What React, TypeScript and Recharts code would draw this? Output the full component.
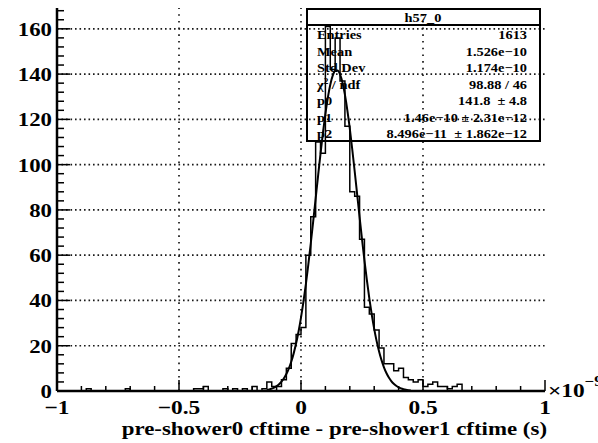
import React from 'react';
import { ComposedChart, Line, XAxis, YAxis, ReferenceLine } from 'recharts';

const FONT = '"Liberation Serif", "Times New Roman", Times, serif';

// Histogram h57_0 : 100 bins from -1 to 1 (x 1e-9 s)
const BIN_START = -1;
const BIN_WIDTH = 0.02;
const counts = [
  0, 0, 0, 0, 0, 0, 1, 0, 0, 0,
  0, 0, 0, 0, 1, 0, 0, 0, 0, 0,
  0, 0, 0, 0, 0, 0, 0, 0, 1, 1,
  2, 0, 0, 0, 1, 0, 1, 0, 1, 0,
  2, 0, 1, 4, 2, 2, 5, 10, 21, 25,
  28, 60, 77, 110, 105, 161, 142, 156, 137, 117,
  88, 86, 67, 37, 34, 27, 19, 12, 12, 9,
  10, 6, 5, 4, 5, 2, 3, 4, 2, 2,
  1, 2, 3, 0, 0, 0, 0, 0, 0, 0,
  0, 0, 0, 0, 0, 0, 0, 0, 0, 0,
];

// Gaussian fit curve values
const fitX = [
  -0.14, -0.13, -0.12, -0.11, -0.1, -0.09, -0.08, -0.07, -0.06, -0.05,
  -0.04, -0.03, -0.02, -0.01, 0, 0.01, 0.02, 0.03, 0.04, 0.05,
  0.06, 0.07, 0.08, 0.09, 0.1, 0.11, 0.12, 0.13, 0.14, 0.15,
  0.16, 0.17, 0.18, 0.19, 0.2, 0.21, 0.22, 0.23, 0.24, 0.25,
  0.26, 0.27, 0.28, 0.29, 0.3, 0.31, 0.32, 0.33, 0.34, 0.35,
  0.36, 0.37, 0.38, 0.39, 0.4, 0.41, 0.42, 0.43, 0.44, 0.45,
];
const fitY = [
  0.49, 0.73, 1.06, 1.52, 2.15, 3.0, 4.14, 5.62, 7.52, 9.93,
  12.94, 16.62, 21.06, 26.31, 32.44, 39.43, 47.26, 55.88, 65.16, 74.93,
  85.0, 95.08, 104.9, 114.14, 122.48, 129.64, 135.32, 139.31, 141.45, 141.64,
  139.89, 136.26, 130.9, 124.02, 115.89, 106.8, 97.08, 87.02, 76.93, 67.08,
  57.69, 48.93, 40.93, 33.76, 27.47, 22.04, 17.45, 13.62, 10.48, 7.96,
  5.96, 4.4, 3.21, 2.3, 1.63, 1.14, 0.79, 0.53, 0.36, 0.24,
];

const xLabelTicks = [-1, -0.5, 0, 0.5, 1];
const xMinorTicks = [-1, -0.9, -0.8, -0.7, -0.6, -0.5, -0.4, -0.3, -0.2, -0.1, 0, 0.1, 0.2, 0.3, 0.4, 0.5, 0.6, 0.7, 0.8, 0.9, 1];
const yLabelTicks = [0, 20, 40, 60, 80, 100, 120, 140, 160];
const yMinorTicks = [0, 4, 8, 12, 16, 20, 24, 28, 32, 36, 40, 44, 48, 52, 56, 60, 64, 68, 72, 76, 80, 84, 88, 92, 96, 100, 104, 108, 112, 116, 120, 124, 128, 132, 136, 140, 144, 148, 152, 156, 160, 164, 168];
const xGrid = [-0.5, 0, 0.5];
const yGrid = [20, 40, 60, 80, 100, 120, 140, 160];
const X_DOMAIN = [-1, 1];
const Y_DOMAIN = [0, 169.2];

const statsTitle = 'h57_0';
const statsLabels = ['Entries', 'Mean', 'Std Dev', 'CHI', 'p0', 'p1', 'p2'];
const statsValues = ['1613', '1.526e\u221210', '1.174e\u221210', '98.88 / 46', '141.8  \u00b1 4.8', '1.46e\u221210 \u00b1 2.31e\u221212', '8.496e\u221211  \u00b1 1.862e\u221212'];
const xTitle = 'pre-shower0 cftime - pre-shower1 cftime (s)';

const histData = [
  ...counts.map((c, i) => ({ x: BIN_START + i * BIN_WIDTH, y: c })),
  { x: BIN_START + counts.length * BIN_WIDTH, y: counts[counts.length - 1] },
];
const fitData = fitX.map((x, i) => ({ x, y: fitY[i] }));

const isIn = (arr: number[], v: number) => arr.some((a) => Math.abs(a - v) < 1e-6);
const fmt = (v: number) => (v < 0 ? '\u2212' + String(Math.abs(v)) : String(v));

const XTickBottom = (props: any) => {
  const { x, y, payload } = props;
  const v = payload.value;
  const major = isIn(xLabelTicks, v);
  return (
    <g>
      <line x1={x} y1={y} x2={x} y2={y - (major ? 11 : 5)} stroke="#000" strokeWidth={1.5} />
      {major && (
        <g transform={`translate(${x},${y + 22.5}) scale(1.2,1)`}>
          <text x={0} y={0} textAnchor="middle" fontFamily={FONT} fontWeight="bold" fontSize={19.5} fill="#000">
            {fmt(v)}
          </text>
        </g>
      )}
    </g>
  );
};

const XTickTop = (props: any) => {
  const { x, y, payload } = props;
  const major = isIn(xLabelTicks, payload.value);
  return <line x1={x} y1={y} x2={x} y2={y + (major ? 11 : 5)} stroke="#000" strokeWidth={1.5} />;
};

const YTickLeft = (props: any) => {
  const { x, y, payload } = props;
  const v = payload.value;
  const major = isIn(yLabelTicks, v);
  return (
    <g>
      <line x1={x} y1={y} x2={x + (major ? 13 : 7)} y2={y} stroke="#000" strokeWidth={1.5} />
      {major && (
        <g transform={`translate(${x - 5},${y + 7}) scale(1.2,1)`}>
          <text x={0} y={0} textAnchor="end" fontFamily={FONT} fontWeight="bold" fontSize={19} fill="#000">
            {fmt(v)}
          </text>
        </g>
      )}
    </g>
  );
};

const YTickRight = (props: any) => {
  const { x, y, payload } = props;
  const major = isIn(yLabelTicks, payload.value);
  return <line x1={x} y1={y} x2={x - (major ? 13 : 7)} y2={y} stroke="#000" strokeWidth={1.5} />;
};

const statsBaselines = [39, 55.5, 72, 88.5, 105, 121.5, 138];

const Overlay = () => (
  <svg width={598} height={443} style={{ position: 'absolute', left: 0, top: 0, pointerEvents: 'none' }}>
    {/* stats box */}
    <rect x={307} y={9} width={233} height={132} fill="none" stroke="#000" strokeWidth={2} />
    <line x1={307} y1={25} x2={540} y2={25} stroke="#000" strokeWidth={2} />
    <g transform="translate(423,22) scale(1.15,1)">
      <text textAnchor="middle" fontFamily={FONT} fontWeight="bold" fontSize={12.5} fill="#000">
        {statsTitle}
      </text>
    </g>
    {statsLabels.map((lab, i) => (
      <g key={'l' + i} transform={`translate(317,${statsBaselines[i]}) scale(1.15,1)`}>
        <text textAnchor="start" fontFamily={FONT} fontWeight="bold" fontSize={12.5} fill="#000">
          {lab === 'CHI' ? (
            <>
              {'\u03c7'}
              <tspan dy={-5} fontSize={8}>2</tspan>
              <tspan dy={5}>{' / ndf'}</tspan>
            </>
          ) : (
            lab
          )}
        </text>
      </g>
    ))}
    {statsValues.map((val, i) => (
      <g key={'v' + i} transform={`translate(527,${statsBaselines[i]}) scale(1.15,1)`}>
        <text textAnchor="end" fontFamily={FONT} fontWeight="bold" fontSize={12.5} fill="#000" style={{ whiteSpace: 'pre' }}>
          {val}
        </text>
      </g>
    ))}
    {/* exponent label */}
    <g transform="translate(548,397) scale(1.2,1)">
      <text textAnchor="start" fontFamily={FONT} fontWeight="bold" fontSize={19.5} fill="#000">
        {'\u00d710'}
        <tspan dy={-11} fontSize={14}>{'\u22129'}</tspan>
      </text>
    </g>
    {/* x axis title */}
    <g transform="translate(547,435) scale(1.205,1)">
      <text textAnchor="end" fontFamily={FONT} fontWeight="bold" fontSize={19} fill="#000">
        {xTitle}
      </text>
    </g>
  </svg>
);

export default function App() {
  return (
    <div style={{ position: 'absolute', left: 0, top: 0, width: 598, height: 443, background: '#fff', overflow: 'hidden' }}>
      <ComposedChart width={598} height={443} margin={{ top: 8, right: 53, bottom: 0, left: 0 }}>
        <XAxis
          xAxisId="main"
          type="number"
          dataKey="x"
          orientation="bottom"
          domain={X_DOMAIN}
          ticks={xMinorTicks}
          interval={0}
          allowDataOverflow
          height={52}
          tickSize={0}
          tickMargin={0}
          tickLine={false}
          axisLine={{ stroke: '#000', strokeWidth: 2.5 }}
          tick={<XTickBottom />}
        />
        <XAxis
          xAxisId="top"
          type="number"
          dataKey="x"
          orientation="top"
          domain={X_DOMAIN}
          ticks={xMinorTicks}
          interval={0}
          allowDataOverflow
          height={0}
          tickSize={0}
          tickMargin={0}
          tickLine={false}
          axisLine={{ stroke: '#000', strokeWidth: 2.5 }}
          tick={<XTickTop />}
        />
        <YAxis
          yAxisId="main"
          type="number"
          orientation="left"
          domain={Y_DOMAIN}
          ticks={yMinorTicks}
          interval={0}
          allowDataOverflow
          width={57}
          tickSize={0}
          tickMargin={0}
          tickLine={false}
          axisLine={{ stroke: '#000', strokeWidth: 2.5 }}
          tick={<YTickLeft />}
        />
        <YAxis
          yAxisId="right"
          type="number"
          orientation="right"
          domain={Y_DOMAIN}
          ticks={yMinorTicks}
          interval={0}
          allowDataOverflow
          width={0}
          tickSize={0}
          tickMargin={0}
          tickLine={false}
          axisLine={{ stroke: '#000', strokeWidth: 2.5 }}
          tick={<YTickRight />}
        />
        {xGrid.map((v) => (
          <ReferenceLine key={'gx' + v} xAxisId="main" yAxisId="main" x={v} stroke="#1a1a1a" strokeWidth={1.7} strokeDasharray="1.6 5.1" />
        ))}
        {yGrid.map((v) => (
          <ReferenceLine key={'gy' + v} xAxisId="main" yAxisId="main" y={v} stroke="#1a1a1a" strokeWidth={1.7} strokeDasharray="1.6 2.9" />
        ))}
        <Line
          xAxisId="main"
          yAxisId="main"
          data={histData}
          dataKey="y"
          type="stepAfter"
          stroke="#000"
          strokeWidth={1.5}
          dot={false}
          activeDot={false}
          isAnimationActive={false}
        />
        <Line
          xAxisId="main"
          yAxisId="main"
          data={fitData}
          dataKey="y"
          type="monotone"
          stroke="#000"
          strokeWidth={2}
          dot={false}
          activeDot={false}
          isAnimationActive={false}
        />
      </ComposedChart>
      <Overlay />
    </div>
  );
}
